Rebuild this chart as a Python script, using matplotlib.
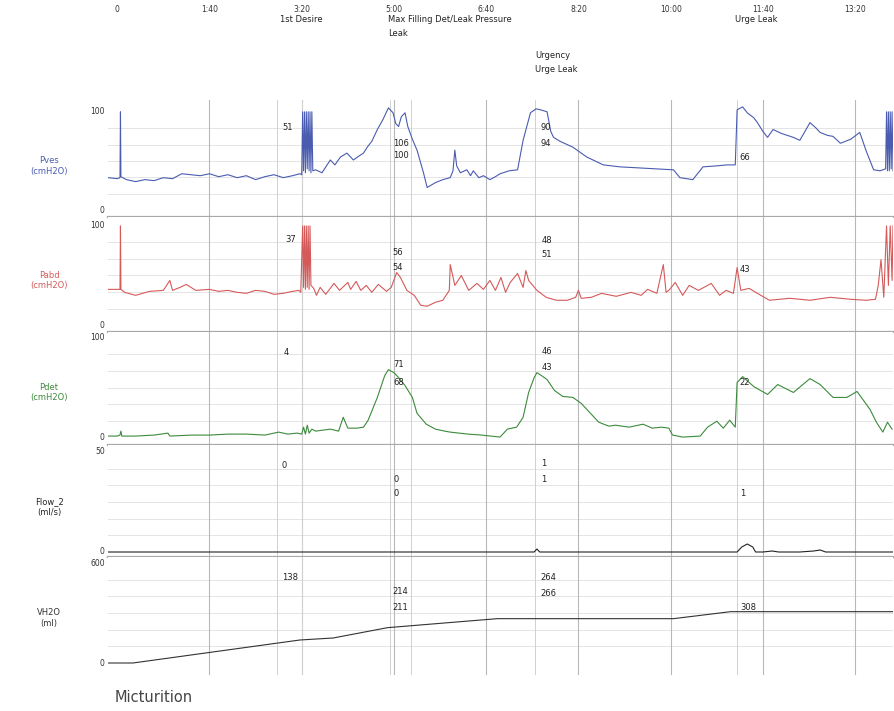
import matplotlib
matplotlib.use('Agg')
import matplotlib.pyplot as plt
import matplotlib.transforms as mtransforms

# time in seconds
tick_times = [0, 100, 200, 300, 400, 500, 600, 700, 800]
tick_labels = ['0', '1:40', '3:20', '5:00', '6:40', '8:20', '10:00', '11:40', '13:20']

event_times = [200, 296, 453, 672]
extra_lines = [173, 318]

pves_t = [-10, 0, 3, 3.5, 4, 10, 20, 30, 40, 50, 60, 70, 80, 90, 100, 110, 120, 130, 140, 150, 160, 170, 180, 190, 198, 200,
          201, 202, 203, 204, 205, 206, 207, 208, 209, 210, 211, 212,
          215, 222, 231, 236, 242, 249, 256, 262, 267, 271, 276, 282, 288, 294, 299, 302, 305, 308, 312, 315, 320, 325, 332, 336,
          345, 353, 361, 364, 366, 368, 372, 379, 383, 386, 392, 397, 404, 410, 415, 425, 434, 440, 448, 454, 459, 466, 470, 473,
          480, 494, 509, 527, 545, 565, 585, 603, 610, 624, 635, 650, 661, 670, 672, 678, 683, 690, 694, 700, 705, 711, 720, 733,
          740, 751, 757, 762, 770, 776, 784, 795, 805, 812, 820, 827, 833, 834, 835, 836, 837, 838, 839, 840, 841]
pves_v = [33, 32, 33, 100, 34, 31, 29, 31, 30, 33, 32, 37, 36, 35, 37, 34, 36, 33, 35, 31, 34, 36, 33, 35, 37, 36,
          100, 40, 100, 38, 100, 42, 100, 40, 100, 38, 100, 40,
          41, 38, 51, 46, 54, 58, 51, 55, 58, 64, 70, 82, 92, 104, 99, 88, 85, 95, 99, 85, 72, 61, 38, 23,
          28, 31, 33, 40, 61, 45, 38, 41, 35, 40, 33, 35, 31, 34, 37, 40, 41, 71, 99, 103, 102, 100, 80, 74,
          70, 64, 54, 46, 44, 43, 42, 41, 33, 31, 44, 45, 46, 46, 102, 105, 99, 94, 89, 80, 74, 82, 78, 74,
          71, 89, 84, 79, 76, 75, 68, 72, 79, 60, 41, 40, 42, 100, 40, 100, 40, 100, 42, 100, 40]

pabd_t = [-10, 0, 3, 3.5, 4, 8, 20, 35, 50, 57, 60, 68, 75, 85, 100, 110, 120, 130, 140, 150, 160, 170, 180, 190, 197, 199,
          201, 202, 203, 204, 205, 206, 207, 208, 209, 210,
          213, 216, 220, 226, 235, 241, 250, 253, 259, 264, 270, 276, 283, 292, 297, 303, 307, 314, 322, 329, 336, 345, 353,
          360, 361, 366, 373, 381, 390, 397, 404, 410, 416, 421, 426, 434, 440, 443, 446, 455, 465, 476, 488, 497, 500, 503,
          514, 525, 541, 557, 568, 575, 585, 592, 595, 598, 605, 613, 620, 630, 644, 653, 660, 668, 672, 676, 685, 694, 707,
          729, 751, 773, 795, 812, 822, 825, 828, 831, 834, 836, 838, 840, 841]
pabd_v = [36, 36, 36, 100, 36, 33, 30, 34, 35, 45, 35, 38, 41, 35, 36, 34, 35, 33, 32, 35, 34, 31, 32, 34, 35, 33,
          100, 38, 100, 36, 100, 38, 100, 36, 100, 40,
          37, 30, 38, 31, 42, 35, 43, 36, 44, 35, 40, 33, 41, 34, 38, 53, 48, 35, 30, 20, 19, 23, 25,
          35, 61, 40, 50, 35, 42, 36, 45, 35, 48, 33, 43, 52, 38, 55, 45, 35, 28, 25, 25, 28, 35, 27,
          28, 32, 29, 33, 30, 36, 32, 61, 33, 35, 43, 30, 40, 35, 42, 30, 35, 32, 58, 35, 37, 32, 25,
          27, 25, 28, 26, 25, 26, 40, 66, 28, 100, 40, 100, 45, 100]

pdet_t = [-10, 0, 3, 4, 5, 20, 40, 55, 57, 80, 100, 120, 140, 160, 175, 185, 195, 200, 202, 204, 206, 208, 211, 215, 231,
          240, 245, 250, 260, 267, 272, 282, 290, 294, 300, 305, 312, 320, 325, 335, 345, 355, 361, 380, 395, 415, 423, 433,
          440, 446, 452, 455, 460, 466, 474, 483, 494, 503, 512, 522, 533, 540, 555, 570, 580, 590, 598, 602, 613, 632, 640,
          650, 657, 664, 670, 672, 678, 690, 705, 716, 733, 751, 762, 776, 791, 802, 816, 823, 830, 835, 840]
pdet_v = [1, 1, 2, 6, 1, 1, 2, 4, 1, 2, 2, 3, 3, 2, 5, 3, 4, 3, 10, 3, 12, 4, 8, 6, 8,
          6, 20, 9, 9, 10, 17, 40, 62, 68, 65, 60, 52, 40, 24, 13, 8, 6, 5, 3, 2, 0, 8, 10,
          20, 45, 60, 65, 62, 58, 47, 41, 40, 34, 25, 15, 11, 12, 10, 13, 9, 10, 9, 2, 0, 1, 10,
          16, 9, 17, 10, 55, 61, 51, 43, 53, 45, 59, 53, 40, 40, 46, 28, 15, 5, 15, 8]

flow_t = [-10, 440, 452, 455, 458, 665, 672, 677, 683, 689, 692, 700, 710, 717, 740, 755, 762, 768, 841]
flow_v = [0, 0, 0, 1.5, 0, 0, 0, 2.5, 4, 2.5, 0, 0, 0.5, 0, 0, 0.5, 1, 0, 0]

vol_t = [-10, 17, 198, 234, 293, 412, 603, 665, 841]
vol_v = [0, 0, 138, 150, 212, 266, 266, 308, 308]

# (panel, time, value, text)
annotations = [
    (0, 179, 84, '51'), (0, 299, 68, '106'), (0, 299, 56, '100'), (0, 459, 84, '90'), (0, 459, 68, '94'), (0, 675, 54, '66'),
    (1, 182, 86, '37'), (1, 298, 73, '56'), (1, 298, 58, '54'), (1, 460, 85, '48'), (1, 460, 71, '51'), (1, 675, 56, '43'),
    (2, 180, 85, '4'), (2, 299, 73, '71'), (2, 299, 55, '68'), (2, 460, 86, '46'), (2, 460, 70, '43'), (2, 675, 55, '22'),
    (3, 178, 43, '0'), (3, 299, 36, '0'), (3, 299, 29, '0'), (3, 460, 44.5, '1'), (3, 460, 36, '1'), (3, 675, 29, '1'),
    (4, 179, 516, '138'), (4, 298, 426, '214'), (4, 298, 336, '211'), (4, 459, 516, '264'), (4, 459, 420, '266'), (4, 676, 336, '308'),
]

W, H = 895, 711
fig = plt.figure(figsize=(W / 100, H / 100), dpi=100)

panels = [
    ('Pves\n(cmH2O)', '#4a5cb0', pves_t, pves_v, 100, (100, 217), (-7, 112)),
    ('Pabd\n(cmH2O)', '#d45a5a', pabd_t, pabd_v, 100, (217, 332), (-7, 109)),
    ('Pdet\n(cmH2O)', '#3c8a3c', pdet_t, pdet_v, 100, (332, 445), (-8, 106)),
    ('Flow_2\n(ml/s)', '#222222', flow_t, flow_v, 50, (445, 557), (-2.5, 53.5)),
    ('VH2O\n(ml)', '#333333', vol_t, vol_v, 600, (557, 675), (-72, 636)),
]

axes = []
for i, (name, col, t, v, top, (py0, py1), ylim) in enumerate(panels):
    ax = fig.add_axes([108 / W, 1 - py1 / H, 785 / W, (py1 - py0) / H])
    ax.set_xlim(-10, 841)
    ax.set_ylim(*ylim)
    for s in ['top', 'left', 'right']:
        ax.spines[s].set_visible(False)
    if i < len(panels) - 1:
        ax.spines['bottom'].set_color('#a8a8a8')
        ax.spines['bottom'].set_linewidth(1.6)
    else:
        ax.spines['bottom'].set_visible(False)
    ax.set_xticks([])
    ax.set_yticks([])
    # light horizontal grid
    for k in range(1, 6):
        ax.axhline(top * k / 6, color='#e4e4e4', lw=0.7, zorder=0)
    for tt in tick_times[1:]:
        ax.axvline(tt, color='#b8b8b8', lw=0.8, zorder=0)
    for tt in event_times + extra_lines:
        ax.axvline(tt, color='#d0d0d0', lw=0.7, zorder=0)
    ax.plot(t, v, color=col, lw=0.8, zorder=3)
    tr = mtransforms.blended_transform_factory(ax.transAxes, ax.transData)
    ax.text(-0.004, top, str(top), transform=tr, ha='right', va='center', fontsize=5.5, color='#333333')
    ax.text(-0.004, 0, '0', transform=tr, ha='right', va='center', fontsize=5.5, color='#333333')
    ax.text(-0.075, top * 0.45, name, transform=tr, ha='center', va='center', fontsize=6, color=col,
            linespacing=1.2)
    axes.append(ax)

for p, tt, val, txt in annotations:
    axes[p].text(tt, val, txt, ha='left', va='center', fontsize=6, color='#222222', zorder=4)

# top time axis and event names
ftr = mtransforms.blended_transform_factory(axes[0].transData, fig.transFigure)
for tt, lab in zip(tick_times, tick_labels):
    fig.text(tt, 1 - 10 / H, lab, transform=ftr, ha='center', va='center', fontsize=5.5, color='#333333')
fig.text(200, 1 - 19 / H, '1st Desire', transform=ftr, ha='center', va='center', fontsize=6, color='#222222')
fig.text(294, 1 - 19 / H, 'Max Filling Det/Leak Pressure', transform=ftr, ha='left', va='center', fontsize=6, color='#222222')
fig.text(294, 1 - 33 / H, 'Leak', transform=ftr, ha='left', va='center', fontsize=6, color='#222222')
fig.text(453, 1 - 56 / H, 'Urgency', transform=ftr, ha='left', va='center', fontsize=6, color='#222222')
fig.text(453, 1 - 70 / H, 'Urge Leak', transform=ftr, ha='left', va='center', fontsize=6, color='#222222')
fig.text(670, 1 - 19 / H, 'Urge Leak', transform=ftr, ha='left', va='center', fontsize=6, color='#222222')

fig.text(115 / W, 1 - 697 / H, 'Micturition', ha='left', va='center', fontsize=10.5, color='#444444')

fig.savefig('out.png', dpi=100)
